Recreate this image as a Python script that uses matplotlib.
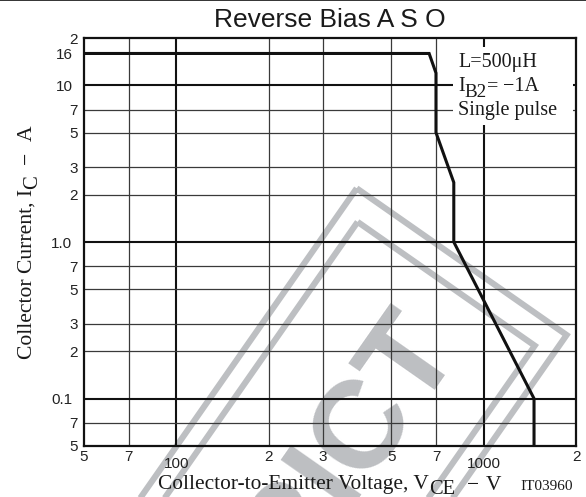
import matplotlib
matplotlib.use("Agg")
import matplotlib.pyplot as plt
import numpy as np
from matplotlib.patches import Polygon, Rectangle
from matplotlib.ticker import FixedLocator, FixedFormatter
from matplotlib.transforms import IdentityTransform

plt.rcParams["font.family"] = ["Liberation Sans", "DejaVu Sans"]

W_PX, H_PX = 586, 497
SERIF = ["Liberation Serif", "DejaVu Serif"]

# safe operating boundary (reverse bias)
vce = [50, 665, 700, 700, 800, 800, 1460, 1460]
ic = [16, 16, 12, 5, 2.4, 1.0, 0.1, 0.05]

x_major = [100, 1000]
x_major_labels = ["100", "1000"]
x_minor = [50, 70, 200, 300, 500, 700, 2000]
x_minor_labels = ["5", "7", "2", "3", "5", "7", "2"]
y_major = [0.1, 1.0, 10, 16]
y_major_labels = ["0.1", "1.0", "10", "16"]
y_minor = [0.05, 0.07, 0.2, 0.3, 0.5, 0.7, 2, 3, 5, 7, 20]
y_minor_labels = ["5", "7", "2", "3", "5", "7", "2", "3", "5", "7", "2"]

x_grid_thin = [70, 200, 300, 500, 700]
x_grid_bold = [100, 1000]
y_grid_thin = [0.07, 0.2, 0.3, 0.5, 0.7, 2, 3, 5, 7]
y_grid_bold = [0.1, 1.0, 10]


def measure(fig, runs, size):
    r = fig.canvas.get_renderer()
    widths = []
    for s, gap, drop, scale in runs:
        t = fig.text(0, 0, s, fontsize=size * scale, family=SERIF)
        widths.append(t.get_window_extent(r).width)
        t.remove()
    return widths


def put_runs(fig, x, y, runs, size, rotation=0, centered=True):
    """Lay out text pieces along one baseline starting/centred at pixel (x, y).
    runs: (text, gap_before_px, drop_px, scale)"""
    widths = measure(fig, runs, size)
    total = sum(widths) + sum(g for _, g, _, _ in runs)
    ang = np.deg2rad(rotation)
    along = np.array([np.cos(ang), np.sin(ang)])
    down = np.array([np.sin(ang), -np.cos(ang)])
    pos = -total / 2 if centered else 0
    for (s, gap, drop, scale), w in zip(runs, widths):
        pos += gap
        px, py = np.array([x, y]) + pos * along + drop * down
        fig.text(px / W_PX, py / H_PX, s, fontsize=size * scale, family=SERIF,
                 rotation=rotation, rotation_mode="anchor",
                 ha="left", va="baseline", color="#1a1a1a")
        pos += w


def draw_watermark(fig):
    gray = "#bdbfc2"
    u = np.array([0.820, -0.573])
    v = np.array([-0.573, -0.820])
    apex = np.array([356.7, 308.7])
    for inset, width in [(0, 256), (20, 216)]:
        a = apex + inset * u + inset * 1.35 * v
        pts = [a, a + width * u, a + width * u + 700 * v, a + 700 * v]
        fig.patches.append(Polygon(pts, closed=True, fill=False, edgecolor=gray,
                                   lw=4.4, joinstyle="miter",
                                   transform=IdentityTransform(), zorder=-2,
                                   figure=fig))
    fig.text(459 / W_PX, 153.5 / H_PX, "RESTRICT", fontsize=90,
             fontweight="bold", color=gray, rotation=55,
             rotation_mode="anchor", ha="right", va="baseline", zorder=-2)


fig = plt.figure(figsize=(W_PX / 100, H_PX / 100), dpi=100)
ax = fig.add_axes([84 / W_PX, (H_PX - 445.7) / H_PX,
                   492 / W_PX, 407.4 / H_PX])
ax.set_facecolor("none")
draw_watermark(fig)

ax.set_xscale("log")
ax.set_yscale("log")
ax.set_xlim(50, 2000)
ax.set_ylim(0.05, 20)

for xv in x_grid_thin:
    ax.axvline(xv, color="#3a3a3a", lw=0.9, zorder=1)
for xv in x_grid_bold:
    ax.axvline(xv, color="#111111", lw=1.5, zorder=1)
for yv in y_grid_thin:
    ax.axhline(yv, color="#3a3a3a", lw=0.9, zorder=1)
for yv in y_grid_bold:
    ax.axhline(yv, color="#111111", lw=1.5, zorder=1)

ax.plot(vce, ic, color="#111111", lw=2.2, solid_joinstyle="miter", zorder=3)

ax.xaxis.set_major_locator(FixedLocator(x_major))
ax.xaxis.set_major_formatter(FixedFormatter(x_major_labels))
ax.xaxis.set_minor_locator(FixedLocator(x_minor))
ax.xaxis.set_minor_formatter(FixedFormatter(x_minor_labels))
ax.yaxis.set_major_locator(FixedLocator(y_major))
ax.yaxis.set_major_formatter(FixedFormatter(y_major_labels))
ax.yaxis.set_minor_locator(FixedLocator(y_minor))
ax.yaxis.set_minor_formatter(FixedFormatter(y_minor_labels))
ax.tick_params(which="both", length=0, labelsize=11, labelcolor="#222222")
ax.tick_params(axis="x", which="minor", pad=3)
ax.tick_params(axis="x", which="major", pad=8)
ax.tick_params(axis="y", which="minor", pad=4.3)
ax.tick_params(axis="y", which="major", pad=8.3)
for sp in ax.spines.values():
    sp.set_linewidth(1.6)
    sp.set_color("#111111")

# condition box
ax.add_patch(Rectangle((0.75, 0.787), 0.244, 0.192, transform=ax.transAxes,
                       facecolor="white", edgecolor="none", zorder=4))

fs_box = 14.5
put_runs(fig, 458, H_PX - 67, [("L=500μH", 0, 0, 1.0)], fs_box, centered=False)
put_runs(fig, 458, H_PX - 91, [("I", 0, 0, 1.0), ("B2", 0, 6, 0.95),
                               ("=", 0, 0, 1.0), ("−1A", 5, 0, 1.0)],
         fs_box, centered=False)
put_runs(fig, 458, H_PX - 115, [("Single pulse", 0, 0, 1.0)], fs_box,
         centered=False)

fig.text(330 / W_PX, (H_PX - 27) / H_PX, "Reverse Bias A S O", fontsize=19,
         ha="center", va="baseline", color="#1a1a1a")

put_runs(fig, 330, H_PX - 489.5,
         [("Collector-to-Emitter Voltage, V", 0, 0, 1.0), ("CE", 0, 4, 0.95),
          ("−", 12, 0, 1.0), ("V", 7, 0, 1.0)], 15.4)
put_runs(fig, 32, H_PX - 242,
         [("Collector Current, I", 0, 0, 1.0), ("C", 0, 5, 0.95),
          ("−", 11, 0, 1.0), ("A", 11, 0, 1.0)], 15.6, rotation=90)
fig.text(573 / W_PX, (H_PX - 490) / H_PX, "IT03960", fontsize=11,
         family=SERIF, ha="right", va="baseline", color="#1a1a1a")

fig.add_artist(plt.Line2D([0, 1], [0.999, 0.999], color="#111111", lw=1.2,
                          transform=fig.transFigure))

fig.savefig("out.png", dpi=100)
